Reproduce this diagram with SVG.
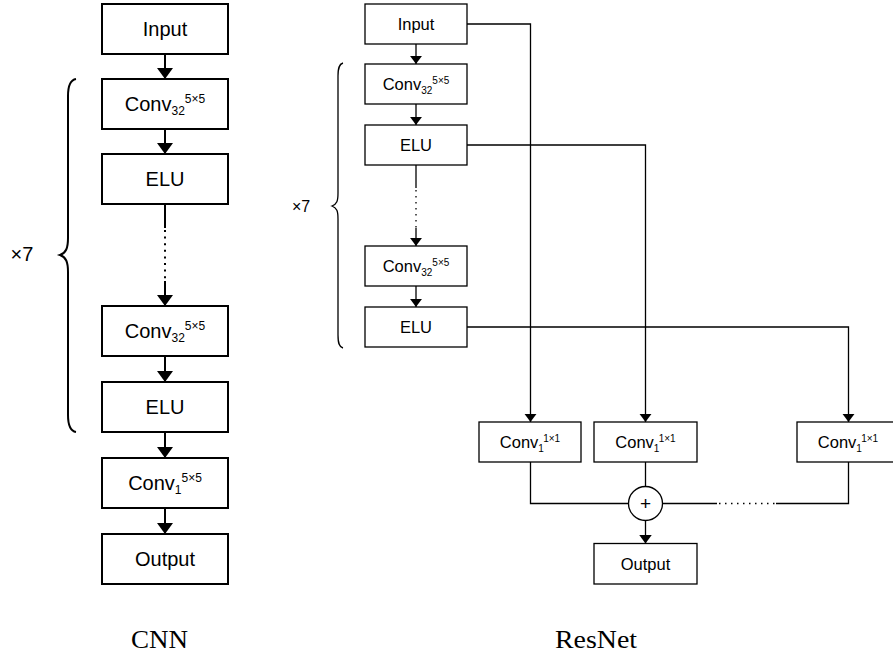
<svg xmlns="http://www.w3.org/2000/svg" width="893" height="658" viewBox="0 0 893 658">
<style>
.box{fill:#fff;stroke:#000;stroke-width:2}
.rbox{fill:#fff;stroke:#000;stroke-width:1.3}
.t{font-family:"Liberation Sans",Arial,sans-serif;font-size:20px;fill:#000;text-anchor:middle}
.rt{font-family:"Liberation Sans",Arial,sans-serif;font-size:16.5px;fill:#000;text-anchor:middle}
.s{font-size:12px}
.rs{font-size:10px}
.ln{fill:none;stroke:#000;stroke-width:2}
.rln{fill:none;stroke:#000;stroke-width:1.3}
.dot{fill:none;stroke:#000;stroke-width:2;stroke-dasharray:2 4.6}
.rdot{fill:none;stroke:#000;stroke-width:1.3;stroke-dasharray:1.5 4.5}
.cap{font-family:"Liberation Serif","Times New Roman",serif;font-size:25px;fill:#000}
</style>
<defs>
<marker id="ah" markerWidth="5.5" markerHeight="8" refX="5.5" refY="4" orient="auto" markerUnits="strokeWidth" viewBox="0 0 5.5 8">
<path d="M0,0 L5.5,4 L0,8 z" fill="#000"/>
</marker>
<marker id="rah" markerWidth="6.5" markerHeight="9.6" refX="6.5" refY="4.8" orient="auto" markerUnits="strokeWidth" viewBox="0 0 6.5 9.6">
<path d="M0,0 L6.5,4.8 L0,9.6 z" fill="#000"/>
</marker>
</defs>

<!-- CNN connectors -->
<g id="cnn-connectors">
<line class="ln" x1="165" y1="54" x2="165" y2="79" marker-end="url(#ah)"/>
<line class="ln" x1="165" y1="129" x2="165" y2="154" marker-end="url(#ah)"/>
<line class="ln" x1="165" y1="204" x2="165" y2="228"/>
<line class="dot" x1="165" y1="230" x2="165" y2="280"/>
<line class="ln" x1="165" y1="281" x2="165" y2="306" marker-end="url(#ah)"/>
<line class="ln" x1="165" y1="356" x2="165" y2="382" marker-end="url(#ah)"/>
<line class="ln" x1="165" y1="432" x2="165" y2="458" marker-end="url(#ah)"/>
<line class="ln" x1="165" y1="508" x2="165" y2="534" marker-end="url(#ah)"/>
</g>

<g id="cnn-input"><rect class="box" x="102" y="4" width="126" height="50"/><text class="t" x="165" y="36">Input</text></g>
<g id="cnn-conv1"><rect class="box" x="102" y="79" width="126" height="50"/><text class="t" x="165" y="111">Conv<tspan class="s" dy="4">32</tspan><tspan class="s" dy="-12">5×5</tspan></text></g>
<g id="cnn-elu1"><rect class="box" x="102" y="154" width="126" height="50"/><text class="t" x="165" y="186">ELU</text></g>
<g id="cnn-conv2"><rect class="box" x="102" y="306" width="126" height="50"/><text class="t" x="165" y="338">Conv<tspan class="s" dy="4">32</tspan><tspan class="s" dy="-12">5×5</tspan></text></g>
<g id="cnn-elu2"><rect class="box" x="102" y="382" width="126" height="50"/><text class="t" x="165" y="414">ELU</text></g>
<g id="cnn-conv3"><rect class="box" x="102" y="458" width="126" height="50"/><text class="t" x="165" y="490">Conv<tspan class="s" dy="4">1</tspan><tspan class="s" dy="-12">5×5</tspan></text></g>
<g id="cnn-output"><rect class="box" x="102" y="534" width="126" height="50"/><text class="t" x="165" y="566">Output</text></g>

<g id="cnn-brace">
<path class="ln" d="M76,79 C70,80 68,86 68,96 L68,238 C68,248 66,253 60,255 C66,257 68,262 68,272 L68,415 C68,425 70,431 76,432"/>
<text class="t" x="22" y="261">×7</text>
</g>

<!-- ResNet connectors -->
<g id="resnet-connectors">
<line class="rln" x1="416" y1="44" x2="416" y2="64" marker-end="url(#rah)"/>
<line class="rln" x1="416" y1="104" x2="416" y2="125" marker-end="url(#rah)"/>
<line class="rln" x1="416" y1="165" x2="416" y2="188"/>
<line class="rdot" x1="416" y1="190" x2="416" y2="228"/>
<line class="rln" x1="416" y1="228" x2="416" y2="246" marker-end="url(#rah)"/>
<line class="rln" x1="416" y1="286" x2="416" y2="307" marker-end="url(#rah)"/>
<polyline class="rln" points="467,24 530.5,24 530.5,422" marker-end="url(#rah)"/>
<polyline class="rln" points="467,145 645.5,145 645.5,422" marker-end="url(#rah)"/>
<polyline class="rln" points="467,327 848.5,327 848.5,422" marker-end="url(#rah)"/>
<polyline class="rln" points="530.5,462 530.5,503.5 628.5,503.5"/>
<line class="rln" x1="645.5" y1="462" x2="645.5" y2="486.5"/>
<line class="rln" x1="662.5" y1="503.5" x2="717" y2="503.5"/>
<line class="rdot" x1="719" y1="503.5" x2="775" y2="503.5"/>
<polyline class="rln" points="776,503.5 848.5,503.5 848.5,462"/>
<line class="rln" x1="645.5" y1="520.5" x2="645.5" y2="543.5" marker-end="url(#rah)"/>
</g>

<g id="res-input"><rect class="rbox" x="365" y="4" width="102" height="40"/><text class="rt" x="416" y="30">Input</text></g>
<g id="res-conv1"><rect class="rbox" x="365" y="64" width="102" height="40"/><text class="rt" x="416" y="90">Conv<tspan class="rs" dy="3.5">32</tspan><tspan class="rs" dy="-10">5×5</tspan></text></g>
<g id="res-elu1"><rect class="rbox" x="365" y="125" width="102" height="40"/><text class="rt" x="416" y="151">ELU</text></g>
<g id="res-conv2"><rect class="rbox" x="365" y="246" width="102" height="40"/><text class="rt" x="416" y="272">Conv<tspan class="rs" dy="3.5">32</tspan><tspan class="rs" dy="-10">5×5</tspan></text></g>
<g id="res-elu2"><rect class="rbox" x="365" y="307" width="102" height="40"/><text class="rt" x="416" y="333">ELU</text></g>

<g id="res-brace">
<path class="rln" d="M343,63 C339,64 338,68 338,76 L338,193 C338,201 337,204 332,206 C337,208 338,211 338,219 L338,335 C338,343 339,347 343,348"/>
<text class="rt" x="301" y="212" style="font-size:16px">×7</text>
</g>

<g id="res-c1x1-a"><rect class="rbox" x="479" y="422" width="102" height="40"/><text class="rt" x="530" y="448">Conv<tspan class="rs" dy="3.5">1</tspan><tspan class="rs" dy="-10">1×1</tspan></text></g>
<g id="res-c1x1-b"><rect class="rbox" x="594" y="422" width="103" height="40"/><text class="rt" x="645.5" y="448">Conv<tspan class="rs" dy="3.5">1</tspan><tspan class="rs" dy="-10">1×1</tspan></text></g>
<g id="res-c1x1-c"><rect class="rbox" x="797" y="422" width="102" height="40"/><text class="rt" x="848" y="448">Conv<tspan class="rs" dy="3.5">1</tspan><tspan class="rs" dy="-10">1×1</tspan></text></g>
<g id="res-sum"><circle class="rbox" cx="645.5" cy="503.5" r="17"/><text class="rt" x="645.5" y="510" style="font-size:19px">+</text></g>
<g id="res-output"><rect class="rbox" x="594" y="543.5" width="103" height="40.5"/><text class="rt" x="645.5" y="570">Output</text></g>

<text class="cap" x="131" y="648" textLength="57" lengthAdjust="spacingAndGlyphs">CNN</text>
<text class="cap" x="555" y="648" textLength="82" lengthAdjust="spacingAndGlyphs">ResNet</text>
</svg>
